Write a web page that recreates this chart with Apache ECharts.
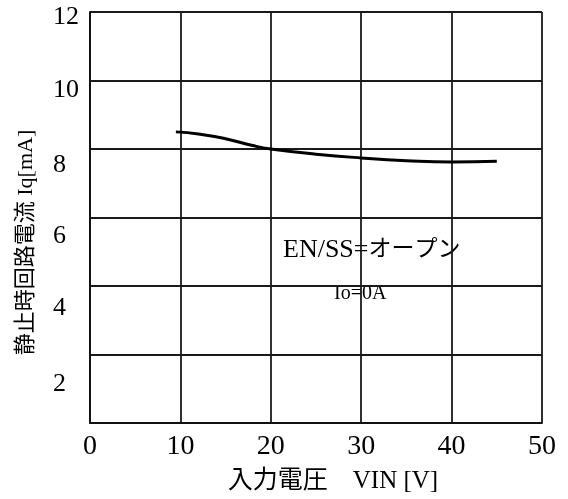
<!DOCTYPE html>
<html>
<head>
<meta charset="utf-8">
<script src="https://cdn.jsdelivr.net/npm/echarts@6/dist/echarts.min.js"></script>
<style>
  html, body { margin: 0; padding: 0; background: #fff; }
  #chart { width: 568px; height: 499px; }
</style>
</head>
<body>
<div id="chart"></div>
<script>
// 入力電圧 VIN [V]
var vinValues = [9.5, 12, 15, 18, 20, 25, 30, 35, 40, 45];
// 静止時回路電流 Iq [mA]
var iqValues = [8.5, 8.44, 8.3, 8.1, 8.0, 7.85, 7.74, 7.66, 7.62, 7.64];

var FONT = "'Liberation Serif', 'Noto Sans CJK JP', serif";

// the scanned original has its y tick labels drifting below the grid lines
var yLabelShift = { 2: 30, 4: 22, 6: 19, 8: 16, 10: 10, 12: 5 };
var yRich = {};
Object.keys(yLabelShift).forEach(function (k) {
  yRich["s" + k] = {
    fontFamily: FONT,
    fontSize: 26,
    color: "#000",
    padding: [yLabelShift[k] * 2, 0, 0, 0],
  };
});

var myChart = echarts.init(document.getElementById("chart"));
var option = {
  backgroundColor: "#fff",
  animation: false,
  grid: {
    left: 90,
    right: 26,
    top: 12,
    bottom: 76,
  },
  xAxis: {
    type: "value",
    min: 0,
    max: 50,
    interval: 10,
    name: "入力電圧　VIN [V]",
    nameLocation: "middle",
    nameGap: 46,
    nameTextStyle: { fontFamily: FONT, fontSize: 25, color: "#000", padding: [0, 0, 0, 34] },
    axisLine: { lineStyle: { color: "#111", width: 1.8 } },
    axisTick: { show: false },
    axisLabel: { fontFamily: FONT, fontSize: 28, color: "#000", margin: 10 },
    splitLine: { show: true, lineStyle: { color: "#1a1a1a", width: 1.8 } },
  },
  yAxis: {
    type: "value",
    min: 0,
    max: 12,
    interval: 2,
    name: "静止時回路電流 Iq[mA]",
    nameLocation: "middle",
    nameGap: 53,
    nameTextStyle: { fontFamily: FONT, fontSize: 22, color: "#000", padding: [0, 50, 0, 0] },
    axisLine: { show: true, lineStyle: { color: "#111", width: 1.8 } },
    axisTick: { show: false },
    axisLabel: {
      align: "left",
      margin: 37,
      showMinLabel: false,
      formatter: function (v) { return "{s" + v + "|" + v + "}"; },
      rich: yRich,
    },
    splitLine: { show: true, lineStyle: { color: "#1a1a1a", width: 1.8 } },
  },
  graphic: [
    {
      type: "text",
      left: 283,
      top: 237,
      style: {
        text: "{a|EN/SS=}{b|オープン}",
        rich: {
          a: { fontFamily: FONT, fontSize: 26, fill: "#000" },
          b: { fontFamily: FONT, fontSize: 23, fill: "#000" },
        },
      },
    },
    {
      type: "text",
      left: 334,
      top: 284,
      style: { text: "Io=0A", font: "20px " + FONT, fill: "#000" },
    },
  ],
  series: [
    {
      type: "line",
      smooth: true,
      symbol: "none",
      data: vinValues.map(function (v, i) { return [v, iqValues[i]]; }),
      lineStyle: { color: "#000", width: 3 },
    },
  ],
};
myChart.setOption(option);
</script>
</body>
</html>
